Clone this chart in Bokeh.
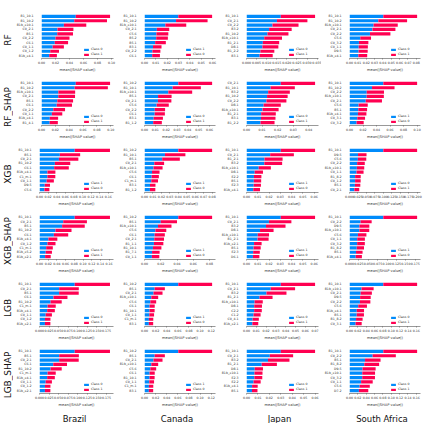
import math
from bokeh.plotting import figure
from bokeh.layouts import row, column
from bokeh.models import Range1d, FactorRange, FixedTicker, PrintfTickFormatter, ColumnDataSource
from bokeh.core.properties import value
from bokeh.embed import file_html
from bokeh.resources import INLINE

countries = ["Brazil", "Canada", "Japan", "South Africa"]
models = ["RF", "RF_SHAP", "XGB", "XGB_SHAP", "LGB", "LGB_SHAP"]
BLUE = "#008BFB"
RED = "#FF0051"
FONT = "DejaVu Sans"

# ---------------- RF ----------------
RF_Brazil_feat = ["B1_10.1", "B1_10.2", "B1b_x10.1", "C0_2.1", "B5.1", "C0_2.2", "C6.1", "C0_1.1", "C0_1.2", "B1b_x4.1"]
RF_Brazil_val = [0.049, 0.0468, 0.032, 0.0228, 0.0225, 0.020, 0.019, 0.016, 0.0125, 0.011]
RF_Brazil_ticks = ["0.00", "0.02", "0.04", "0.06", "0.08", "0.10"]
RF_Brazil_leg = ["Class 0", "Class 1"]

RF_Canada_feat = ["B1_10.1", "B1_10.2", "B1b_x10.1", "C0_2.1", "C5.6", "B5.2", "B5.1", "B3.1", "C0_2.2", "C6.1"]
RF_Canada_val = [0.0298, 0.0278, 0.0184, 0.0109, 0.0105, 0.0103, 0.0094, 0.0075, 0.0070, 0.0068]
RF_Canada_ticks = ["0.00", "0.01", "0.02", "0.03", "0.04", "0.05", "0.06"]
RF_Canada_leg = ["Class 1", "Class 0"]

RF_Japan_feat = ["B1_10.1", "C0_2.1", "C0_2.2", "B3.2", "B1_10.2", "B1b_x10.1", "B1_2.1", "D8.1", "B1_2.2", "B3.1"]
RF_Japan_val = [0.0170, 0.0151, 0.0129, 0.0112, 0.0104, 0.0088, 0.0081, 0.0079, 0.0069, 0.0065]
RF_Japan_ticks = ["0.000", "0.005", "0.010", "0.015", "0.020", "0.025", "0.030", "0.035"]
RF_Japan_leg = ["Class 0", "Class 1"]

RF_SA_feat = ["B1_10.1", "B1_10.2", "B1b_x10.1", "C0_2.1", "C0_2.2", "C5.6", "C0_3.2", "C0_1.1", "D9.5", "B1b_x4.1"]
RF_SA_val = [0.0405, 0.0345, 0.0289, 0.0275, 0.0245, 0.0129, 0.0113, 0.0110, 0.0109, 0.0106]
RF_SA_ticks = ["0.00", "0.01", "0.02", "0.03", "0.04", "0.05", "0.06", "0.07", "0.08"]
RF_SA_leg = ["Class 0", "Class 1"]

# ---------------- RF_SHAP ----------------
RFS_Brazil_feat = ["B1_10.1", "B1_10.2", "B1b_x10.1", "C0_2.1", "B5.1", "C6.1", "C0_2.2", "C0_1.1", "B1b_x4.1", "B1_4.1"]
RFS_Brazil_val = [0.0495, 0.0479, 0.0243, 0.0242, 0.0228, 0.0220, 0.0170, 0.0150, 0.0120, 0.0118]
RFS_Brazil_ticks = ["0.00", "0.02", "0.04", "0.06", "0.08", "0.10"]
RFS_Brazil_leg = ["Class 0", "Class 1"]

RFS_Canada_feat = ["B1_10.2", "B1_10.1", "B1b_x10.1", "B5.1", "C0_2.1", "C5.6", "C0_2.2", "C6.1", "B3.1", "B1_1.2"]
RFS_Canada_val = [0.0312, 0.0260, 0.0220, 0.0125, 0.0124, 0.0112, 0.0095, 0.0094, 0.0085, 0.0080]
RFS_Canada_ticks = ["0.00", "0.01", "0.02", "0.03", "0.04", "0.05", "0.06"]
RFS_Canada_leg = ["Class 0", "Class 1"]

RFS_Japan_feat = ["C0_2.1", "B1_10.1", "B3.2", "B1_10.2", "C0_2.2", "D8.1", "B1b_x10.1", "B1_2.1", "B3.1", "B1_2.2"]
RFS_Japan_val = [0.0220, 0.0155, 0.0139, 0.0132, 0.0128, 0.0110, 0.0103, 0.0094, 0.0093, 0.0090]
RFS_Japan_ticks = ["0.00", "0.01", "0.02", "0.03", "0.04"]
RFS_Japan_leg = ["Class 0", "Class 1"]

RFS_SA_feat = ["B1_10.1", "B1_10.2", "C0_2.2", "B1b_x10.1", "C0_2.1", "C5.6", "B5.1", "B1b_x4.1", "C0_3.1", "C0_3.2"]
RFS_SA_val = [0.0500, 0.0333, 0.0255, 0.0254, 0.0240, 0.0135, 0.0130, 0.0125, 0.0115, 0.0105]
RFS_SA_ticks = ["0.00", "0.02", "0.04", "0.06", "0.08", "0.10"]
RFS_SA_leg = ["Class 1", "Class 0"]

# ---------------- XGB ----------------
XGB_Brazil_feat = ["B1_10.1", "B5.1", "C0_2.1", "B1_10.2", "C6.1", "B1b_x4.1", "C1_m.1", "C0_1.1", "D9.5", "C5.6"]
XGB_Brazil_val = [0.0820, 0.0473, 0.0452, 0.0358, 0.0341, 0.0185, 0.0184, 0.0167, 0.0122, 0.0115]
XGB_Brazil_ticks = ["0.00", "0.02", "0.04", "0.06", "0.08", "0.10", "0.12", "0.14", "0.16"]
XGB_Brazil_leg = ["Class 1", "Class 0"]

XGB_Canada_feat = ["B1_10.2", "B1_10.1", "B5.1", "C0_2.1", "B1b_x10.1", "C5.6", "C6.1", "C1_m.1", "B3.1", "B1_1.2"]
XGB_Canada_val = [0.0400, 0.0242, 0.0209, 0.0116, 0.0107, 0.0089, 0.0085, 0.0080, 0.0065, 0.0064]
XGB_Canada_ticks = ["0.00", "0.01", "0.02", "0.03", "0.04", "0.05", "0.06", "0.07", "0.08"]
XGB_Canada_leg = ["Class 1", "Class 0"]

XGB_Japan_feat = ["B1_10.1", "C0_2.1", "B1_2.1", "B3.2", "B1b_x10.1", "D8.1", "E2.2", "B5.1", "E2.3", "B1b_x4.1"]
XGB_Japan_val = [0.0304, 0.0210, 0.0160, 0.0158, 0.0108, 0.0073, 0.0066, 0.0065, 0.0064, 0.0060]
XGB_Japan_ticks = ["0.00", "0.01", "0.02", "0.03", "0.04", "0.05", "0.06"]
XGB_Japan_leg = ["Class 1", "Class 0"]

XGB_SA_feat = ["B1_10.1", "D9.5", "C5.6", "C0_2.2", "B1b_x10.1", "C0_1.1", "B1_8.2", "C0_1.2", "B5.1", "C0_2.1"]
XGB_SA_val = [0.1000, 0.0252, 0.0248, 0.0226, 0.0218, 0.0208, 0.0166, 0.0165, 0.0160, 0.0144]
XGB_SA_ticks = ["0.000", "0.025", "0.050", "0.075", "0.100", "0.125", "0.150", "0.175", "0.200"]
XGB_SA_leg = ["Class 0", "Class 1"]

# ---------------- XGB_SHAP ----------------
XGBS_Brazil_feat = ["B1_10.1", "C0_2.1", "B5.1", "B1_10.2", "C6.1", "B1b_x4.1", "C0_1.2", "C1_m.1", "B1b_x5.2", "B1b_x2.1"]
XGBS_Brazil_val = [0.0810, 0.0545, 0.0520, 0.0368, 0.0330, 0.0205, 0.0184, 0.0153, 0.0143, 0.0129]
XGBS_Brazil_ticks = ["0.00", "0.02", "0.04", "0.06", "0.08", "0.10", "0.12", "0.14", "0.16"]
XGBS_Brazil_leg = ["Class 0", "Class 1"]

XGBS_Canada_feat = ["B1_10.2", "B5.1", "B1b_x10.1", "C5.6", "C6.1", "C0_2.1", "B1_1.1", "B1_10.1", "B1_7.1", "C0_1.1"]
XGBS_Canada_val = [0.0416, 0.0200, 0.0166, 0.0134, 0.0125, 0.0120, 0.0116, 0.0104, 0.0093, 0.0091]
XGBS_Canada_ticks = ["0.00", "0.02", "0.04", "0.06", "0.08"]
XGBS_Canada_leg = ["Class 1", "Class 0"]

XGBS_Japan_feat = ["B1_10.1", "C0_2.1", "B3.2", "D8.1", "B1b_x10.1", "B1_2.1", "B1b_x2.1", "B5.1", "E2.3", "D6.1"]
XGBS_Japan_val = [0.0304, 0.0199, 0.0173, 0.0120, 0.0100, 0.0098, 0.0067, 0.0063, 0.0059, 0.0057]
XGBS_Japan_ticks = ["0.00", "0.01", "0.02", "0.03", "0.04", "0.05", "0.06"]
XGBS_Japan_leg = ["Class 1", "Class 0"]

XGBS_SA_feat = ["B1_10.1", "C0_2.2", "D9.5", "B1b_x10.1", "C5.6", "C0_1.1", "C0_3.2", "B1_8.2", "B5.1", "B1b_x4.1"]
XGBS_SA_val = [0.0900, 0.0295, 0.0264, 0.0263, 0.0225, 0.0205, 0.0204, 0.0193, 0.0174, 0.0165]
XGBS_SA_ticks = ["0.000", "0.025", "0.050", "0.075", "0.100", "0.125", "0.150", "0.175"]
XGBS_SA_leg = ["Class 1", "Class 0"]

# ---------------- LGB ----------------
LGB_Brazil_feat = ["B1_10.1", "C0_2.1", "B5.1", "C6.1", "B1_10.2", "C1_m.1", "B1b_x4.1", "C0_1.1", "C0_1.2", "B1b_x2.1"]
LGB_Brazil_val = [0.0920, 0.0513, 0.0512, 0.0365, 0.0290, 0.0212, 0.0200, 0.0162, 0.0143, 0.0142]
LGB_Brazil_ticks = ["0.000", "0.025", "0.050", "0.075", "0.100", "0.125", "0.150", "0.175"]
LGB_Brazil_leg = ["Class 0", "Class 1"]

LGB_Canada_feat = ["B1_10.2", "B5.1", "C0_2.1", "B1b_x10.1", "C5.6", "C6.1", "B1_10.1", "C0_1.1", "C1_m.1", "B3.1"]
LGB_Canada_val = [0.0608, 0.0183, 0.0162, 0.0123, 0.0105, 0.0092, 0.0091, 0.0086, 0.0079, 0.0078]
LGB_Canada_ticks = ["0.00", "0.02", "0.04", "0.06", "0.08", "0.10", "0.12"]
LGB_Canada_leg = ["Class 1", "Class 0"]

LGB_Japan_feat = ["B1_10.1", "C0_2.1", "B3.2", "B1_2.1", "B1b_x10.1", "D8.1", "C2.2", "C1.2", "C0_4.1", "B1b_x2.1"]
LGB_Japan_val = [0.0350, 0.0248, 0.0204, 0.0133, 0.0083, 0.0079, 0.0078, 0.0072, 0.0063, 0.0060]
LGB_Japan_ticks = ["0.00", "0.01", "0.02", "0.03", "0.04", "0.05", "0.06", "0.07"]
LGB_Japan_leg = ["Class 0", "Class 1"]

LGB_SA_feat = ["B1_10.1", "B1b_x10.1", "C0_2.1", "D9.5", "C0_2.2", "C5.6", "B1b_x4.1", "B5.1", "B1_8.2", "C0_3.1"]
LGB_SA_val = [0.0810, 0.0289, 0.0268, 0.0254, 0.0250, 0.0209, 0.0174, 0.0173, 0.0157, 0.0146]
LGB_SA_ticks = ["0.00", "0.02", "0.04", "0.06", "0.08", "0.10", "0.12", "0.14", "0.16"]
LGB_SA_leg = ["Class 0", "Class 1"]

# ---------------- LGB_SHAP ----------------
LGBS_Brazil_feat = ["B1_10.1", "B5.1", "C0_2.1", "C6.1", "B1_10.2", "C1_m.1", "B1b_x4.1", "C0_1.1", "C0_1.2", "B1b_x2.1"]
LGBS_Brazil_val = [0.0920, 0.0514, 0.0512, 0.0359, 0.0290, 0.0212, 0.0200, 0.0162, 0.0143, 0.0142]
LGBS_Brazil_ticks = ["0.000", "0.025", "0.050", "0.075", "0.100", "0.125", "0.150", "0.175"]
LGBS_Brazil_leg = ["Class 0", "Class 1"]

LGBS_Canada_feat = ["B1_10.2", "B5.1", "C0_2.1", "B1b_x10.1", "C5.6", "C6.1", "B1_10.1", "C0_1.1", "C1_m.1", "B3.1"]
LGBS_Canada_val = [0.0608, 0.0183, 0.0162, 0.0123, 0.0105, 0.0092, 0.0091, 0.0086, 0.0079, 0.0078]
LGBS_Canada_ticks = ["0.00", "0.02", "0.04", "0.06", "0.08", "0.10", "0.12"]
LGBS_Canada_leg = ["Class 1", "Class 0"]

LGBS_Japan_feat = ["B1_10.1", "C0_2.1", "B3.2", "B1_2.1", "D8.1", "B1b_x10.1", "E2.3", "E2.2", "B1b_x4.1", "B5.1"]
LGBS_Japan_val = [0.0300, 0.0204, 0.0188, 0.0133, 0.0072, 0.0070, 0.0069, 0.0062, 0.0049, 0.0048]
LGBS_Japan_ticks = ["0.00", "0.01", "0.02", "0.03", "0.04", "0.05", "0.06"]
LGBS_Japan_leg = ["Class 0", "Class 1"]

LGBS_SA_feat = ["B1_10.1", "C0_2.2", "B5.1", "B1_8.2", "D9.5", "B1b_x10.1", "C0_3.2", "C0_1.1", "C5.6", "D7.2"]
LGBS_SA_val = [0.0810, 0.0555, 0.0372, 0.0355, 0.0313, 0.0306, 0.0305, 0.0278, 0.0243, 0.0225]
LGBS_SA_ticks = ["0.00", "0.02", "0.04", "0.06", "0.08", "0.10", "0.12", "0.14", "0.16"]
LGBS_SA_leg = ["Class 0", "Class 1"]

panels = [
    [(RF_Brazil_feat, RF_Brazil_val, RF_Brazil_ticks, RF_Brazil_leg),
     (RF_Canada_feat, RF_Canada_val, RF_Canada_ticks, RF_Canada_leg),
     (RF_Japan_feat, RF_Japan_val, RF_Japan_ticks, RF_Japan_leg),
     (RF_SA_feat, RF_SA_val, RF_SA_ticks, RF_SA_leg)],
    [(RFS_Brazil_feat, RFS_Brazil_val, RFS_Brazil_ticks, RFS_Brazil_leg),
     (RFS_Canada_feat, RFS_Canada_val, RFS_Canada_ticks, RFS_Canada_leg),
     (RFS_Japan_feat, RFS_Japan_val, RFS_Japan_ticks, RFS_Japan_leg),
     (RFS_SA_feat, RFS_SA_val, RFS_SA_ticks, RFS_SA_leg)],
    [(XGB_Brazil_feat, XGB_Brazil_val, XGB_Brazil_ticks, XGB_Brazil_leg),
     (XGB_Canada_feat, XGB_Canada_val, XGB_Canada_ticks, XGB_Canada_leg),
     (XGB_Japan_feat, XGB_Japan_val, XGB_Japan_ticks, XGB_Japan_leg),
     (XGB_SA_feat, XGB_SA_val, XGB_SA_ticks, XGB_SA_leg)],
    [(XGBS_Brazil_feat, XGBS_Brazil_val, XGBS_Brazil_ticks, XGBS_Brazil_leg),
     (XGBS_Canada_feat, XGBS_Canada_val, XGBS_Canada_ticks, XGBS_Canada_leg),
     (XGBS_Japan_feat, XGBS_Japan_val, XGBS_Japan_ticks, XGBS_Japan_leg),
     (XGBS_SA_feat, XGBS_SA_val, XGBS_SA_ticks, XGBS_SA_leg)],
    [(LGB_Brazil_feat, LGB_Brazil_val, LGB_Brazil_ticks, LGB_Brazil_leg),
     (LGB_Canada_feat, LGB_Canada_val, LGB_Canada_ticks, LGB_Canada_leg),
     (LGB_Japan_feat, LGB_Japan_val, LGB_Japan_ticks, LGB_Japan_leg),
     (LGB_SA_feat, LGB_SA_val, LGB_SA_ticks, LGB_SA_leg)],
    [(LGBS_Brazil_feat, LGBS_Brazil_val, LGBS_Brazil_ticks, LGBS_Brazil_leg),
     (LGBS_Canada_feat, LGBS_Canada_val, LGBS_Canada_ticks, LGBS_Canada_leg),
     (LGBS_Japan_feat, LGBS_Japan_val, LGBS_Japan_ticks, LGBS_Japan_leg),
     (LGBS_SA_feat, LGBS_SA_val, LGBS_SA_ticks, LGBS_SA_leg)],
]

LABEL_W = 13
PANEL_W = [103, 102, 103, 102]
B_LEFT, B_RIGHT, B_BOTTOM = 22, 3, 19
PLOT_H = 45
TOP_FIRST, TOP_OTHER = 13, 3
BOTTOM_H = 11


def make_panel(feat, val, ticks, leg, first, width):
    top = TOP_FIRST if first else TOP_OTHER
    h = top + PLOT_H + B_BOTTOM
    c0 = list(val)
    c1 = list(val)  # binary model: both classes have the same mean |SHAP|
    tot = [a + b for a, b in zip(c0, c1)]
    xmax = max(tot) * 1.05
    p = figure(width=width, height=h, output_backend="svg", toolbar_location=None,
               y_range=FactorRange(*reversed(feat), range_padding=0.03),
               x_range=Range1d(0, xmax),
               min_border_left=B_LEFT, min_border_right=B_RIGHT,
               min_border_top=top, min_border_bottom=B_BOTTOM)
    src = ColumnDataSource(dict(f=feat, c0=c0, t=tot))
    p.hbar(y="f", left=0, right="c0", height=0.72, source=src, color=BLUE,
           line_color=None, legend_label=leg[0])
    p.hbar(y="f", left="c0", right="t", height=0.72, source=src, color=RED,
           line_color=None, legend_label=leg[1])
    p.xgrid.visible = False
    p.ygrid.visible = False
    p.outline_line_color = None
    p.background_fill_color = "white"
    tv = [float(s) for s in ticks]
    dec = len(ticks[0].split(".")[1])
    p.xaxis.ticker = FixedTicker(ticks=tv)
    p.xaxis.formatter = PrintfTickFormatter(format="%." + str(dec) + "f")
    p.xaxis.axis_label = "mean(|SHAP value|)"
    p.xaxis.axis_label_text_font_size = "3.6px"
    p.xaxis.axis_label_text_font_style = "normal"
    p.xaxis.axis_label_text_font = FONT
    p.xaxis.axis_label_text_color = "#333333"
    p.xaxis.axis_label_standoff = 1
    p.xaxis.major_label_text_font_size = "3.2px"
    p.xaxis.major_label_text_font = FONT
    p.xaxis.major_label_text_color = "#333333"
    p.xaxis.major_label_standoff = 1
    p.xaxis.major_tick_out = 1
    p.xaxis.major_tick_in = 0
    p.xaxis.minor_tick_line_color = None
    p.xaxis.axis_line_color = "#333333"
    p.xaxis.axis_line_width = 0.5
    p.xaxis.major_tick_line_width = 0.5
    p.xaxis.major_tick_line_color = "#333333"
    p.yaxis.axis_line_color = None
    p.yaxis.major_tick_line_color = None
    p.yaxis.minor_tick_line_color = None
    p.yaxis.major_label_text_font_size = "3.2px"
    p.yaxis.major_label_text_font = FONT
    p.yaxis.major_label_text_color = "#333333"
    p.yaxis.major_label_standoff = 2
    lg = p.legend[0]
    lg.location = "bottom_right"
    lg.label_text_font_size = "3.2px"
    lg.label_text_font = FONT
    lg.label_text_color = "#333333"
    lg.label_height = 3
    lg.label_standoff = 2
    lg.glyph_height = 3
    lg.glyph_width = 6
    lg.spacing = 1
    lg.padding = 0
    lg.margin = 2
    lg.border_line_color = None
    lg.background_fill_alpha = 0
    return p


def blank(width, height):
    p = figure(width=width, height=height, output_backend="svg", toolbar_location=None,
               x_range=Range1d(0, width), y_range=Range1d(0, height), min_border=0)
    p.axis.visible = False
    p.grid.visible = False
    p.outline_line_color = None
    return p


row_heights = [(TOP_FIRST if i == 0 else TOP_OTHER) + PLOT_H + B_BOTTOM for i in range(len(models))]
total_h = sum(row_heights) + BOTTOM_H

# one tall strip for all row titles, so that no title is clipped at a row boundary
label_strip = blank(LABEL_W, total_h)
ys = []
acc = 0
for i, h in enumerate(row_heights):
    top = TOP_FIRST if i == 0 else TOP_OTHER
    center_from_top = acc + top + PLOT_H / 2 + 4
    ys.append(total_h - center_from_top)
    acc += h
label_strip.text(x=[LABEL_W / 2 + 0.5] * len(models), y=ys, text=models, angle=math.pi / 2,
                 text_align="center", text_baseline="middle", text_font=value(FONT),
                 text_font_size="9px", text_color="#111111")

rows = []
for i, m in enumerate(models):
    first = (i == 0)
    figs = []
    for j in range(4):
        feat, val, ticks, leg = panels[i][j]
        figs.append(make_panel(feat, val, ticks, leg, first, PANEL_W[j]))
    rows.append(row(*figs, spacing=0))

bottom = []
for j, c in enumerate(countries):
    w = PANEL_W[j]
    b = blank(w, BOTTOM_H)
    b.text(x=[B_LEFT + (w - B_LEFT - B_RIGHT) / 2], y=[BOTTOM_H / 2], text=[c], text_align="center",
           text_baseline="middle", text_font=value(FONT), text_font_size="8.5px",
           text_color="#111111")
    bottom.append(b)
rows.append(row(*bottom, spacing=0))

layout = row(label_strip, column(*rows, spacing=0), spacing=0)
open("out.html", "w").write(file_html(layout, INLINE))
